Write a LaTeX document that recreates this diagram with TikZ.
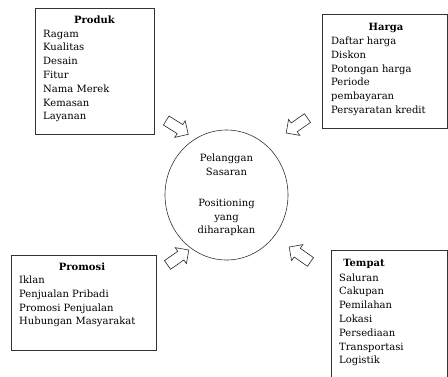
\documentclass[tikz,border=0pt]{standalone}
\usepackage{fontspec}
\setmainfont{DejaVu Serif}
\usetikzlibrary{shapes.geometric,shapes.arrows}

\begin{document}
\begin{tikzpicture}
[x=1pt,y=-1pt,every node/.style={font=\fontsize{10}{13.8}\selectfont},
kotak/.style={draw=black!80,line width=0.6pt,inner sep=0pt},
judul/.style={font=\fontsize{10}{13.8}\selectfont\bfseries,anchor=base},
isi/.style={anchor=base west,inner sep=0pt},
panah/.style={single arrow,draw=black!85,line width=0.6pt,inner xsep=0pt,inner ysep=5pt,
  minimum height=26pt,single arrow head extend=4.5pt}]
\clip (0,0) rectangle (448,376);
% kotak-kotak bauran pemasaran
\node[kotak,minimum width=119,minimum height=126] (produk) at (94.5,71) {};
\node[kotak,minimum width=125,minimum height=114] (harga) at (384.5,71) {};
\node[kotak,minimum width=145,minimum height=95] (promosi) at (83.5,302.5) {};
\node[kotak,minimum width=116,minimum height=130] (tempat) at (389,315) {};
\node[judul] (jproduk) at (94.5,23.5) {Produk};
\node[judul] (jharga) at (386,30) {Harga};
\node[judul] (jpromosi) at (82,270) {Promosi};
\node[judul] (jtempat) at (364,266) {Tempat};
\foreach \t [count=\i] in {Ragam,Kualitas,Desain,Fitur,Nama Merek,Kemasan,Layanan}
  \node[isi] (produk-\i) at (43,{37+13.8*(\i-1)}) {\t};
\foreach \t [count=\i] in {Daftar harga,Diskon,Potongan harga,Periode,pembayaran,Persyaratan kredit}
  \node[isi] (harga-\i) at (331,{44.5+13.8*(\i-1)}) {\t};
\foreach \t [count=\i] in {Iklan,Penjualan Pribadi,Promosi Penjualan,Hubungan Masyarakat}
  \node[isi] (promosi-\i) at (19,{283.5+13.8*(\i-1)}) {\t};
\foreach \t [count=\i] in {Saluran,Cakupan,Pemilahan,Lokasi,Persediaan,Transportasi,Logistik}
  \node[isi] (tempat-\i) at (339,{281+13.8*(\i-1)}) {\t};
% sasaran di tengah
\node[ellipse,draw=black!80,line width=0.6pt,minimum width=123,minimum height=130,align=center]
  (sasaran) at (226.5,195) {Pelanggan\\Sasaran\\[17pt]Positioning\\yang\\diharapkan};
% panah menuju sasaran
\node[panah,rotate=-32] (pproduk) at (175,126) {};
\node[panah,rotate=215] (pharga) at (299,124) {};
\node[panah,rotate=35] (ppromosi) at (176,259) {};
\node[panah,rotate=145] (ptempat) at (302,256) {};
\end{tikzpicture}
\end{document}
